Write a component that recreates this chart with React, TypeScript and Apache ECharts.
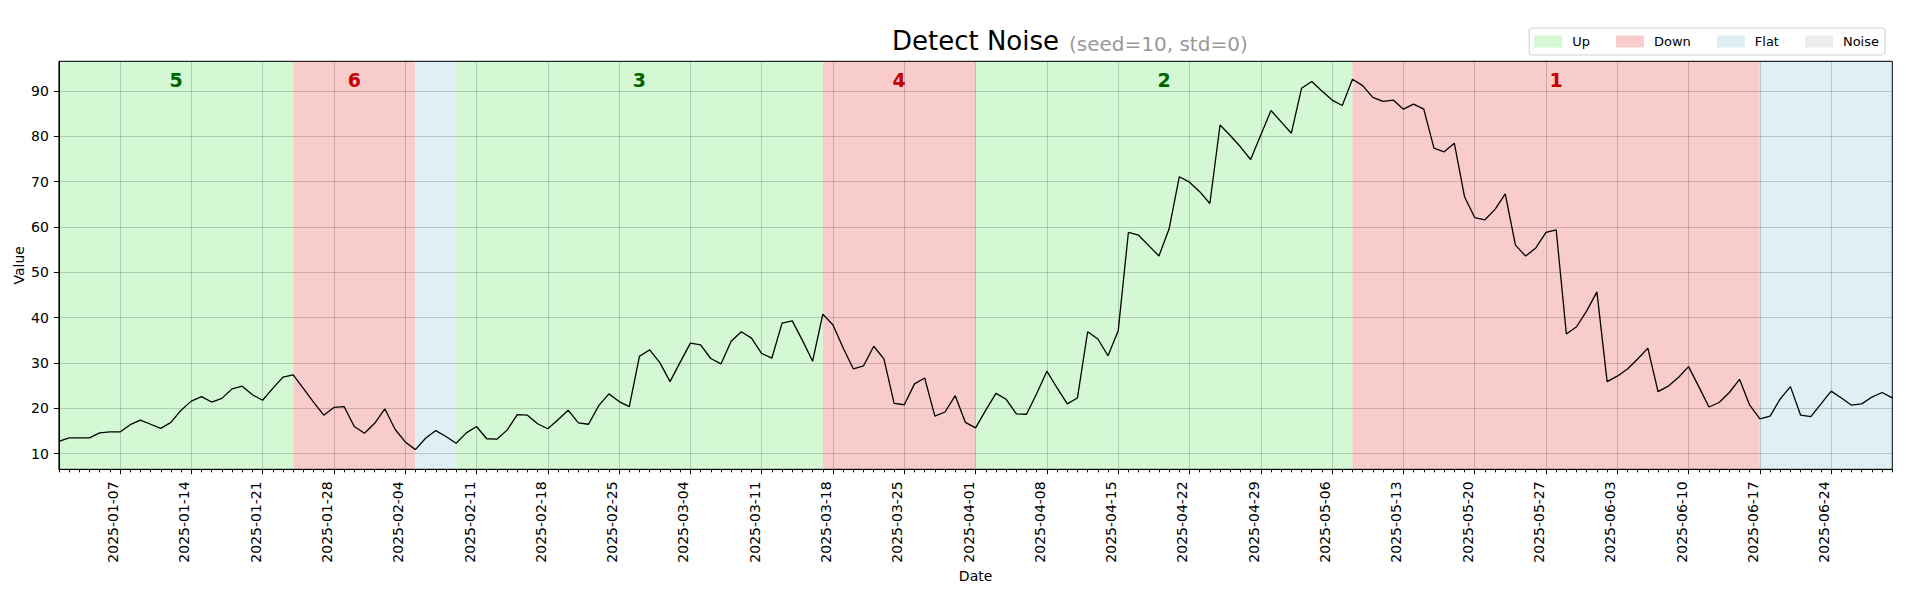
import React, { useEffect, useRef } from "react";
import * as echarts from "echarts";

const FONT = "'DejaVu Sans', 'Liberation Sans', sans-serif";

const START_DATE = "2025-01-01";

const values: number[] = [
  12.7, 13.5, 13.5, 13.5, 14.6, 14.8, 14.8, 16.4, 17.4, 16.5,
  15.6, 16.9, 19.6, 21.6, 22.6, 21.4, 22.2, 24.3, 24.9, 23.0,
  21.8, 24.4, 26.9, 27.4, 24.4, 21.4, 18.5, 20.2, 20.4, 16.0,
  14.5, 16.7, 19.9, 15.4, 12.6, 10.9, 13.4, 15.1, 13.8, 12.3,
  14.6, 16.0, 13.3, 13.2, 15.2, 18.6, 18.5, 16.6, 15.5, 17.5,
  19.6, 16.8, 16.5, 20.6, 23.2, 21.5, 20.4, 31.5, 32.9, 30.1,
  25.9, 30.2, 34.4, 34.0, 31.0, 29.8, 34.8, 36.9, 35.5, 32.1,
  31.1, 38.8, 39.3, 35.0, 30.4, 40.8, 38.4, 33.3, 28.7, 29.4,
  33.7, 30.9, 21.1, 20.8, 25.4, 26.7, 18.3, 19.2, 22.8, 16.9,
  15.7, 19.6, 23.3, 22.0, 18.8, 18.7, 23.3, 28.2, 24.5, 21.0,
  22.3, 36.9, 35.3, 31.6, 37.1, 58.8, 58.2, 55.9, 53.6, 59.6,
  71.1, 69.9, 67.8, 65.2, 82.5, 80.2, 77.7, 74.9, 80.3, 85.7,
  83.2, 80.7, 90.6, 92.1, 90.0, 88.0, 86.8, 92.6, 91.2, 88.6,
  87.7, 88.0, 86.0, 87.1, 86.0, 77.4, 76.6, 78.5, 66.7, 62.1,
  61.6, 63.9, 67.3, 56.0, 53.6, 55.4, 58.8, 59.4, 36.4, 38.0,
  41.5, 45.7, 25.9, 27.1, 28.7, 30.9, 33.3, 23.7, 24.9, 26.8,
  29.2, 24.8, 20.3, 21.3, 23.5, 26.4, 20.7, 17.7, 18.3, 22.1,
  24.8, 18.5, 18.2, 21.0, 23.8, 22.3, 20.7, 21.0, 22.5, 23.5,
  22.3,
];

const regionStarts = ["2025-01-01", "2025-01-24", "2025-02-05", "2025-02-09", "2025-03-17", "2025-04-01", "2025-05-08", "2025-06-17"];
const regionEnds = ["2025-01-24", "2025-02-05", "2025-02-09", "2025-03-17", "2025-04-01", "2025-05-08", "2025-06-17", "2025-06-30"];
const regionTypes = ["Up", "Down", "Flat", "Up", "Down", "Up", "Down", "Flat"];
const regionLabels = ["5", "6", "", "3", "4", "2", "1", ""];

const legendNames = ["Up", "Down", "Flat", "Noise"];
const fillColors: Record<string, string> = {
  Up: "#d3f8d3",
  Down: "#f9cccc",
  Flat: "#deeff5",
  Noise: "#ededed",
};
const labelColors: Record<string, string> = {
  Up: "#006400",
  Down: "#c40000",
  Flat: "#000",
  Noise: "#000",
};

const FIRST_MAJOR_TICK = 6; // 2025-01-07
const TICK_STEP = 7;

const Y_MIN = 6.56;
const Y_MAX = 96.56;

function buildDates(): string[] {
  const t0 = Date.parse(START_DATE + "T00:00:00Z");
  return values.map((_, i) => new Date(t0 + i * 86400000).toISOString().slice(0, 10));
}

export default function App() {
  const ref = useRef<HTMLDivElement>(null);

  useEffect(() => {
    document.body.style.margin = "0";
    if (!ref.current) return;
    const chart = echarts.init(ref.current, undefined, { renderer: "svg" });
    const dates = buildDates();
    const isMajor = (index: number) => index >= FIRST_MAJOR_TICK && (index - FIRST_MAJOR_TICK) % TICK_STEP === 0;
    const grid = "rgba(0,0,0,0.17)";

    const regionSeries = legendNames.map((name) => ({
      name,
      type: "line",
      data: [],
      z: 1,
      silent: true,
      itemStyle: { color: fillColors[name] },
      lineStyle: { color: fillColors[name] },
      markArea: {
        silent: true,
        itemStyle: { color: fillColors[name], opacity: 1, borderWidth: 0 },
        label: {
          show: true,
          position: "insideTop",
          distance: 9,
          fontSize: 19,
          fontWeight: "bold",
          fontFamily: FONT,
          color: labelColors[name],
        },
        emphasis: { disabled: true },
        data: regionTypes
          .map((t, i) => ({ t, i }))
          .filter((r) => r.t === name)
          .map((r) => [
            { name: regionLabels[r.i], xAxis: regionStarts[r.i] },
            { xAxis: regionEnds[r.i] },
          ]),
      },
    }));

    chart.setOption({
      animation: false,
      textStyle: { fontFamily: FONT },
      graphic: [
        {
          type: "text",
          x: 975.5,
          y: 41,
          style: { text: "Detect Noise", fontSize: 26, fontFamily: FONT, fill: "#000", align: "center", verticalAlign: "middle" },
        },
        {
          type: "text",
          x: 1069,
          y: 44,
          style: { text: "(seed=10, std=0)", fontSize: 20, fontFamily: FONT, fill: "#999", align: "left", verticalAlign: "middle" },
        },
      ],
      legend: {
        right: 21,
        top: 28,
        itemWidth: 28,
        itemHeight: 12,
        itemGap: 26,
        padding: [7, 6, 7, 5],
        borderColor: "#d0d0d0",
        borderWidth: 1,
        borderRadius: 3,
        backgroundColor: "#fff",
        icon: "rect",
        selectedMode: false,
        textStyle: { fontSize: 13, fontFamily: FONT, color: "#000", padding: [0, 0, 0, 5] },
        data: legendNames.map((n) => ({ name: n, icon: "rect", itemStyle: { color: fillColors[n], borderWidth: 0 } })),
      },
      grid: {
        left: 58.9,
        right: 13.7,
        top: 61.3,
        bottom: 130.7,
        show: true,
        borderColor: "#000",
        borderWidth: 1,
        backgroundColor: "transparent",
        containLabel: false,
        outerBoundsMode: "none",
        z: 4,
      },
      xAxis: [
        {
          type: "category",
          data: dates,
          boundaryGap: false,
          z: 3,
          axisLine: { show: true, lineStyle: { color: "#000", width: 1 } },
          axisTick: { show: true, interval: (i: number) => isMajor(i), length: 5, lineStyle: { color: "#000" } },
          axisLabel: {
            interval: (i: number) => isMajor(i),
            rotate: 90,
            fontSize: 14,
            color: "#000",
            fontFamily: FONT,
            margin: 12,
            verticalAlign: "bottom",
            lineHeight: 14,
          },
          splitLine: { show: true, interval: (i: number) => isMajor(i), lineStyle: { color: grid, width: 1 } },
          name: "Date",
          nameLocation: "middle",
          nameGap: 100,
          nameMoveOverlap: false,
          nameTextStyle: { fontSize: 14, color: "#000", fontFamily: FONT },
        },
        {
          type: "category",
          data: dates,
          boundaryGap: false,
          position: "bottom",
          z: 3,
          axisLine: { show: false },
          axisTick: { show: true, interval: 0, length: 3, lineStyle: { color: "#000" } },
          axisLabel: { show: false },
          splitLine: { show: false },
        },
      ],
      yAxis: {
        type: "value",
        min: Y_MIN,
        max: Y_MAX,
        splitNumber: 9,
        z: 3,
        axisLine: { show: true, lineStyle: { color: "#000", width: 1 } },
        axisTick: { show: true, length: 5, lineStyle: { color: "#000" } },
        axisLabel: {
          fontSize: 14,
          color: "#000",
          fontFamily: FONT,
          margin: 10,
          showMinLabel: false,
          showMaxLabel: false,
          formatter: (v: number) => {
            const r = Math.round(v);
            return Math.abs(v - r) < 1e-6 && r % 10 === 0 ? String(r) : "";
          },
        },
        splitLine: { show: true, lineStyle: { color: grid, width: 1 } },
        name: "Value",
        nameLocation: "middle",
        nameGap: 33,
        nameMoveOverlap: false,
        nameTextStyle: { fontSize: 14, color: "#000", fontFamily: FONT },
      },
      series: [
        ...regionSeries,
        {
          name: "value",
          type: "line",
          data: values,
          xAxisIndex: 0,
          symbol: "none",
          z: 5,
          silent: true,
          lineStyle: { color: "#000", width: 1.3 },
          itemStyle: { color: "#000" },
        },
      ],
    });
    return () => chart.dispose();
  }, []);

  return <div ref={ref} style={{ width: 1906, height: 600 }} />;
}
